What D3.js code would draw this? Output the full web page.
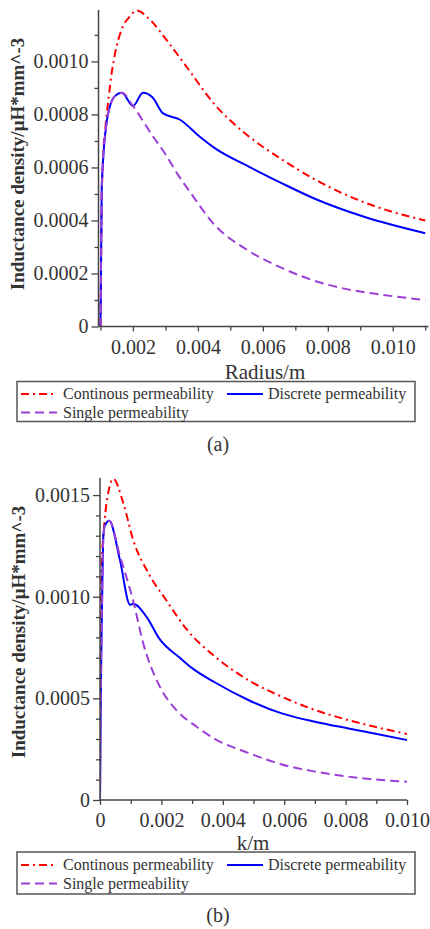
<!DOCTYPE html>
<html>
<head>
<meta charset="utf-8">
<script src="https://cdn.jsdelivr.net/npm/d3@7"></script>
<style>
  html, body { margin: 0; padding: 0; background: #fff; }
  svg { display: block; }
  text { font-family: "Liberation Serif", "DejaVu Serif", serif; fill: #333; }
</style>
</head>
<body>
<svg id="fig" width="430" height="929"></svg>
<script>
// ---- Panel (a): inductance density against radius ----
const aContinuousX = [0.001, 0.00102, 0.00104, 0.00108, 0.00116, 0.00124, 0.00135, 0.00145, 0.00165, 0.00191, 0.00211, 0.00252, 0.00304, 0.00365, 0.0045, 0.00554, 0.00659, 0.0076, 0.00892, 0.0100, 0.011];
const aContinuousY = [0, 0.00025, 0.00048, 0.00063, 0.00076, 0.00085, 0.00096, 0.00103, 0.00112, 0.00117, 0.001192, 0.001158, 0.00108, 0.00098, 0.00084, 0.00072, 0.00063, 0.000555, 0.000478, 0.000432, 0.0004];

const aDiscreteX = [0.001, 0.00101, 0.00102, 0.00103, 0.00104, 0.00119, 0.00129, 0.00145, 0.00166, 0.002, 0.00231, 0.0026, 0.00292, 0.00345, 0.00406, 0.00452, 0.00554, 0.00659, 0.0076, 0.00914, 0.011];
const aDiscreteY = [0, 0.00012, 0.00025, 0.0004, 0.00053, 0.00077, 0.00083, 0.00087, 0.000882, 0.000832, 0.000882, 0.000865, 0.000805, 0.00078, 0.000716, 0.000673, 0.000605, 0.00054, 0.000482, 0.000413, 0.000352];

const aSingleX = [0.001, 0.00101, 0.00102, 0.00103, 0.00104, 0.00119, 0.00129, 0.00145, 0.00166, 0.002, 0.0026, 0.0030, 0.0034, 0.0038, 0.0045, 0.0055, 0.0066, 0.0076, 0.00862, 0.00966, 0.011];
const aSingleY = [0, 0.00012, 0.00025, 0.0004, 0.00053, 0.00077, 0.00083, 0.00087, 0.000882, 0.000832, 0.00072, 0.00065, 0.00057, 0.0005, 0.000385, 0.00029, 0.00022, 0.000172, 0.00014, 0.00012, 0.0001];

const aXTicks = [0.002, 0.004, 0.006, 0.008, 0.010];
const aXMinor = [0.001, 0.003, 0.005, 0.007, 0.009, 0.011];
const aYTicks = [0, 0.0002, 0.0004, 0.0006, 0.0008, 0.0010];
const aYMinor = [0.0001, 0.0003, 0.0005, 0.0007, 0.0009, 0.0011];

// ---- Panel (b): inductance density against k ----
const bContinuousX = [0, 0.00001, 0.00003, 0.000055, 0.00011, 0.00018, 0.00028, 0.00043, 0.00076, 0.00108, 0.0016, 0.00217, 0.00282, 0.00375, 0.00483, 0.00592, 0.007, 0.00809, 0.00918, 0.01];
const bContinuousY = [0, 0.0006, 0.001, 0.00117, 0.0013, 0.00142, 0.00152, 0.00158, 0.00146, 0.00128, 0.00111, 0.00098, 0.00084, 0.000705, 0.00059, 0.000508, 0.000443, 0.000393, 0.000352, 0.000325];

const bDiscreteX = [0, 0.00002, 0.00004, 0.00006, 0.00011, 0.00016, 0.0003, 0.00065, 0.00098, 0.00108, 0.00152, 0.00195, 0.0026, 0.00299, 0.00375, 0.00483, 0.00592, 0.007, 0.00809, 0.00918, 0.01];
const bDiscreteY = [0, 0.0004, 0.0007, 0.0009, 0.0013, 0.00135, 0.001374, 0.00118, 0.00096, 0.000965, 0.0009, 0.00079, 0.0007, 0.00065, 0.000578, 0.000492, 0.000426, 0.000385, 0.000352, 0.00032, 0.000295];

const bSingleX = [0, 0.00002, 0.00004, 0.00006, 0.00011, 0.00016, 0.0003, 0.00065, 0.00108, 0.00141, 0.00195, 0.0025, 0.00315, 0.00375, 0.00483, 0.00592, 0.007, 0.00809, 0.00918, 0.01];
const bSingleY = [0, 0.0004, 0.0007, 0.0009, 0.0013, 0.00135, 0.001374, 0.0012, 0.00098, 0.00077, 0.000557, 0.00044, 0.00036, 0.0003, 0.000232, 0.000175, 0.00014, 0.000115, 0.000098, 0.00009];

const bXTicks = [0, 0.002, 0.004, 0.006, 0.008, 0.010];
const bXMinor = [0.001, 0.003, 0.005, 0.007, 0.009];
const bYTicks = [0, 0.0005, 0.0010, 0.0015];
const bYMinor = [0.0001, 0.0002, 0.0003, 0.0004, 0.0006, 0.0007, 0.0008, 0.0009, 0.0011, 0.0012, 0.0013, 0.0014];

const seriesNames = ["Continous permeability", "Discrete permeability", "Single permeability"];
const seriesColors = ["#ff0000", "#0000ff", "#9b3fd6"];
const seriesDash = ["8,4,2,4", null, "9,5"];

const svg = d3.select("#fig");
const zip = (xs, ys) => xs.map((x, i) => ({ x, y: ys[i] }));

function fmtY(d) { return d === 0 ? "0" : d.toFixed(4); }
function fmtX(d) { return d === 0 ? "0" : d.toFixed(3); }

function panel(cfg) {
  const x = d3.scaleLinear().domain(cfg.xDomain).range(cfg.xRange);
  const y = d3.scaleLinear().domain(cfg.yDomain).range(cfg.yRange);
  const g = svg.append("g");

  // clip plot area
  const clipId = "clip-" + cfg.tag;
  svg.append("defs").append("clipPath").attr("id", clipId)
    .append("rect")
    .attr("x", cfg.xRange[0]).attr("y", cfg.yRange[1] - 2)
    .attr("width", cfg.xRange[1] - cfg.xRange[0] + 2)
    .attr("height", cfg.yRange[0] - cfg.yRange[1] + 2);

  const line = d3.line().x(d => x(d.x)).y(d => y(d.y)).curve(d3.curveMonotoneX);
  const lines = g.append("g").attr("clip-path", `url(#${clipId})`);
  cfg.series.forEach((s, i) => {
    lines.append("path")
      .datum(s)
      .attr("fill", "none")
      .attr("stroke", seriesColors[i])
      .attr("stroke-width", 2)
      .attr("stroke-dasharray", seriesDash[i])
      .attr("d", line);
  });

  // axes
  const xAxis = g.append("g").attr("transform", `translate(0,${cfg.yRange[0]})`)
    .call(d3.axisBottom(x).tickValues(cfg.xTicks).tickFormat(fmtX).tickSize(5).tickPadding(8));
  const xMinor = g.append("g").attr("transform", `translate(0,${cfg.yRange[0]})`)
    .call(d3.axisBottom(x).tickValues(cfg.xMinor).tickFormat("").tickSize(4));
  const yAxis = g.append("g").attr("transform", `translate(${cfg.xRange[0]},0)`)
    .call(d3.axisLeft(y).tickValues(cfg.yTicks).tickFormat(fmtY).tickSize(7).tickPadding(3));
  const yMinor = g.append("g").attr("transform", `translate(${cfg.xRange[0]},0)`)
    .call(d3.axisLeft(y).tickValues(cfg.yMinor).tickFormat("").tickSize(4));

  [xAxis, xMinor, yAxis, yMinor].forEach(a => {
    a.attr("font-family", null);
    a.select(".domain").remove();
    a.selectAll(".tick line").attr("stroke", "#444").attr("stroke-width", 1.3);
    a.selectAll("text")
      .style("font-family", '"Liberation Serif", serif')
      .style("font-size", "20px")
      .attr("fill", "#333");
  });

  // spines
  g.append("line")
    .attr("x1", cfg.xRange[0]).attr("x2", cfg.xRange[1])
    .attr("y1", cfg.yRange[0]).attr("y2", cfg.yRange[0])
    .attr("stroke", "#444").attr("stroke-width", 1.5);
  g.append("line")
    .attr("x1", cfg.xRange[0]).attr("x2", cfg.xRange[0])
    .attr("y1", cfg.yRange[0]).attr("y2", cfg.yRange[1])
    .attr("stroke", "#444").attr("stroke-width", 1.5);

  // axis titles
  g.append("text")
    .attr("x", cfg.xTitlePos[0]).attr("y", cfg.xTitlePos[1])
    .attr("text-anchor", "middle")
    .style("font-size", "21px")
    .text(cfg.xTitle);
  g.append("text")
    .attr("transform", `translate(${cfg.yTitlePos[0]},${cfg.yTitlePos[1]}) rotate(-90)`)
    .attr("text-anchor", "middle")
    .attr("dy", "0.35em")
    .style("font-size", "19px")
    .style("font-weight", "bold")
    .text("Inductance density/\u03bcH*mm^-3");

  // legend
  const L = cfg.legend;
  g.append("rect")
    .attr("x", L.x0).attr("y", L.y0)
    .attr("width", L.x1 - L.x0).attr("height", L.y1 - L.y0)
    .attr("fill", "#fff").attr("stroke", "#555").attr("stroke-width", 1.5);
  const slots = [
    { sx: 21, tx: 63, y: L.r1 },
    { sx: 227, tx: 268, y: L.r1 },
    { sx: 21, tx: 63, y: L.r2 }
  ];
  slots.forEach((s, i) => {
    g.append("line")
      .attr("x1", s.sx).attr("x2", s.sx + 36)
      .attr("y1", s.y).attr("y2", s.y)
      .attr("stroke", seriesColors[i]).attr("stroke-width", 2)
      .attr("stroke-dasharray", seriesDash[i]);
    g.append("text")
      .attr("x", s.tx).attr("y", s.y)
      .attr("dy", "0.33em")
      .style("font-size", "16px")
      .text(seriesNames[i]);
  });

  // caption
  g.append("text")
    .attr("x", 218).attr("y", cfg.captionY)
    .attr("text-anchor", "middle")
    .style("font-size", "20px")
    .text(cfg.caption);
}

panel({
  tag: "a",
  xDomain: [0.00094, 0.0111], xRange: [98.5, 428.5],
  yDomain: [0, 0.001194], yRange: [326.5, 10],
  series: [zip(aContinuousX, aContinuousY), zip(aDiscreteX, aDiscreteY), zip(aSingleX, aSingleY)],
  xTicks: aXTicks, xMinor: aXMinor, yTicks: aYTicks, yMinor: aYMinor,
  xTitle: "Radius/m", xTitlePos: [265, 378.5],
  yTitlePos: [17, 164],
  legend: { x0: 17, x1: 415, y0: 381.5, y1: 421.5, r1: 394, r2: 412.5 },
  caption: "(a)", captionY: 451
});

panel({
  tag: "b",
  xDomain: [0, 0.010], xRange: [100, 407],
  yDomain: [0, 0.001584], yRange: [800, 478],
  series: [zip(bContinuousX, bContinuousY), zip(bDiscreteX, bDiscreteY), zip(bSingleX, bSingleY)],
  xTicks: bXTicks, xMinor: bXMinor, yTicks: bYTicks, yMinor: bYMinor,
  xTitle: "k/m", xTitlePos: [253, 850],
  yTitlePos: [18, 632],
  legend: { x0: 17, x1: 415, y0: 852, y1: 894, r1: 865, r2: 883.5 },
  caption: "(b)", captionY: 922
});
</script>
</body>
</html>
